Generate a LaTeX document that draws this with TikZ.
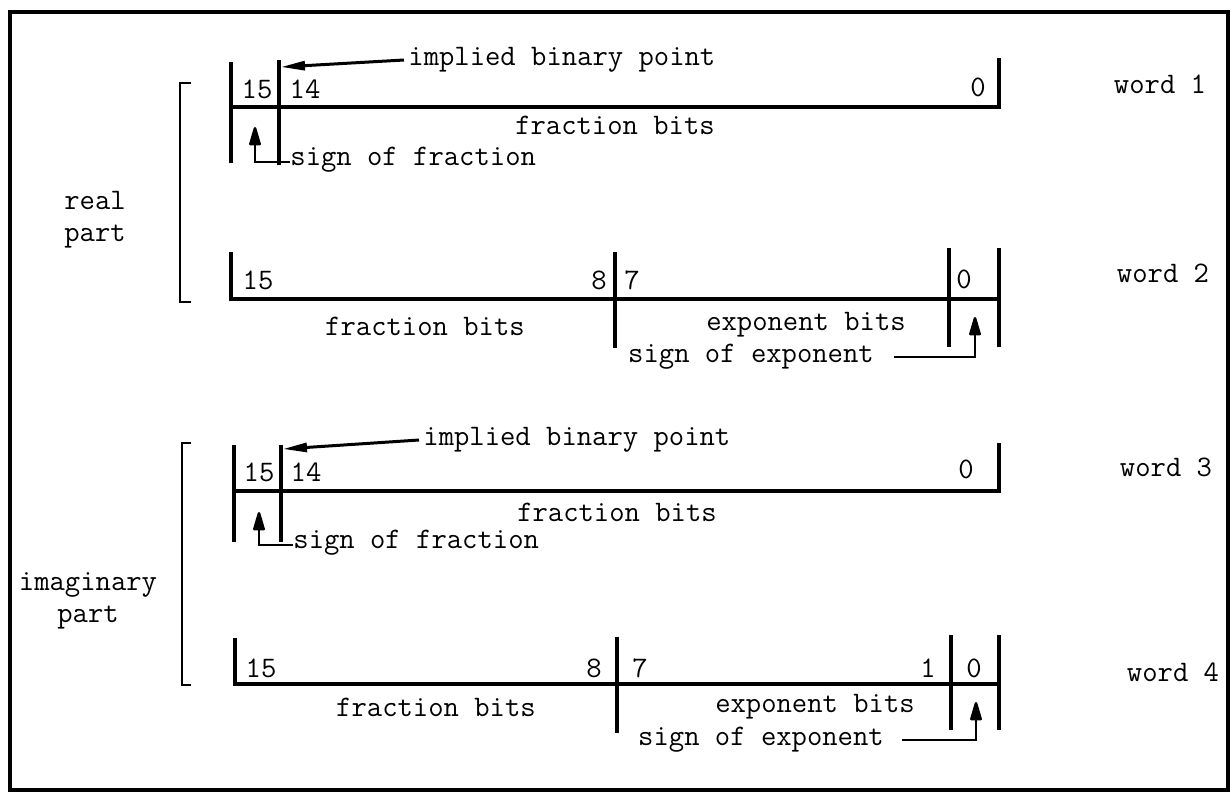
\documentclass[tikz,border=0pt]{standalone}
\usepackage{fontspec}
\usetikzlibrary{arrows.meta}
\begin{document}
\begin{tikzpicture}[x=0.5pt,y=-0.5pt,
  reg/.style={line width=1.7pt},
  lbl/.style={font=\ttfamily\fontsize{14.9}{16}\selectfont, inner sep=0pt},
  tip/.style={line width=1.3pt,-{Triangle[length=11pt,width=6pt,round]}},
  ptr/.style={line width=1.5pt,-{Triangle[length=12pt,width=4.5pt]}},
  brk/.style={line width=1.2pt}]
\useasboundingbox (0,0) rectangle (1231,794);
\draw[line width=2.2pt] (10,12) rectangle (1228,790);

% ---------------- word 1
\draw[reg] (231,62) -- (231,163);
\draw[reg] (279,60) -- (279,165);
\draw[reg] (231,107) -- (999,107) -- (999,58);
\node[lbl] (w1a) at (257,89) {15};
\node[lbl] (w1b) at (305,89) {14};
\node[lbl] (w1c) at (978,87) {0};
\node[lbl] (w1f) at (615,125) {fraction bits};
\node[lbl] (w1) at (1160,84) {word 1};
\node[lbl,anchor=west] (ibp1) at (408,60) {implied binary point};
\coordinate (ibp1t) at (281,67);
\draw[ptr] ([xshift=-2pt]ibp1.west) -- (ibp1t);
\node[lbl,anchor=west] (sf1) at (290,160) {sign of fraction};
\coordinate (sf1t) at (255,127);
\draw[tip] ([yshift=-1pt]sf1.west) -| (sf1t);

% bracket real
\draw[brk] (191,83) -- (180,83) -- (180,302) -- (191,302);
\node[lbl,align=center] (rp) at (95,220) {real\\part};

% ---------------- word 2
\draw[reg] (231,252) -- (231,299) -- (999,299);
\draw[reg] (615,252) -- (615,348);
\draw[reg] (949,248) -- (949,347);
\draw[reg] (999,248) -- (999,347);
\node[lbl] (w2a) at (258,280) {15};
\node[lbl] (w2b) at (599,280) {8};
\node[lbl] (w2c) at (632,280) {7};
\node[lbl] (w2d) at (964,279) {0};
\node[lbl] (w2f) at (425,326) {fraction bits};
\node[lbl] (w2e) at (806,325) {exponent bits};
\node[lbl] (w2) at (1163,273) {word 2};
\node[lbl] (se2) at (751,357) {sign of exponent};
\coordinate (se2t) at (975,317);
\draw[tip] ([xshift=10pt]se2.east) -| (se2t);

% ---------------- word 3
\draw[reg] (234,445) -- (234,542);
\draw[reg] (281,445) -- (281,542);
\draw[reg] (234,491) -- (999,491) -- (999,443);
\node[lbl] (w3a) at (259,472) {15};
\node[lbl] (w3b) at (306,472) {14};
\node[lbl] (w3c) at (966,469) {0};
\node[lbl] (w3f) at (617,512) {fraction bits};
\node[lbl] (w3) at (1166,467) {word 3};
\node[lbl,anchor=west] (ibp3) at (423,440) {implied binary point};
\coordinate (ibp3t) at (283,449);
\draw[ptr] ([xshift=-2pt]ibp3.west) -- (ibp3t);
\node[lbl,anchor=west] (sf3) at (293,543) {sign of fraction};
\coordinate (sf3t) at (259,512);
\draw[tip] ([yshift=-1pt]sf3.west) -| (sf3t);

% bracket imaginary
\draw[brk] (191,443) -- (182,443) -- (182,685) -- (191,685);
\node[lbl,align=center] (ip) at (88,601) {imaginary\\part};

% ---------------- word 4
\draw[reg] (235,638) -- (235,684) -- (999,684);
\draw[reg] (617,637) -- (617,733);
\draw[reg] (951,635) -- (951,730);
\draw[reg] (999,635) -- (999,730);
\node[lbl] (w4a) at (261,668) {15};
\node[lbl] (w4b) at (594,668) {8};
\node[lbl] (w4c) at (640,668) {7};
\node[lbl] (w4d) at (928,668) {1};
\node[lbl] (w4z) at (974,668) {0};
\node[lbl] (w4f) at (436,707) {fraction bits};
\node[lbl] (w4e) at (815,707) {exponent bits};
\node[lbl] (w4) at (1173,672) {word 4};
\node[lbl] (se4) at (761,740) {sign of exponent};
\coordinate (se4t) at (976,702);
\draw[tip] ([xshift=9pt]se4.east) -| (se4t);
\end{tikzpicture}
\end{document}
